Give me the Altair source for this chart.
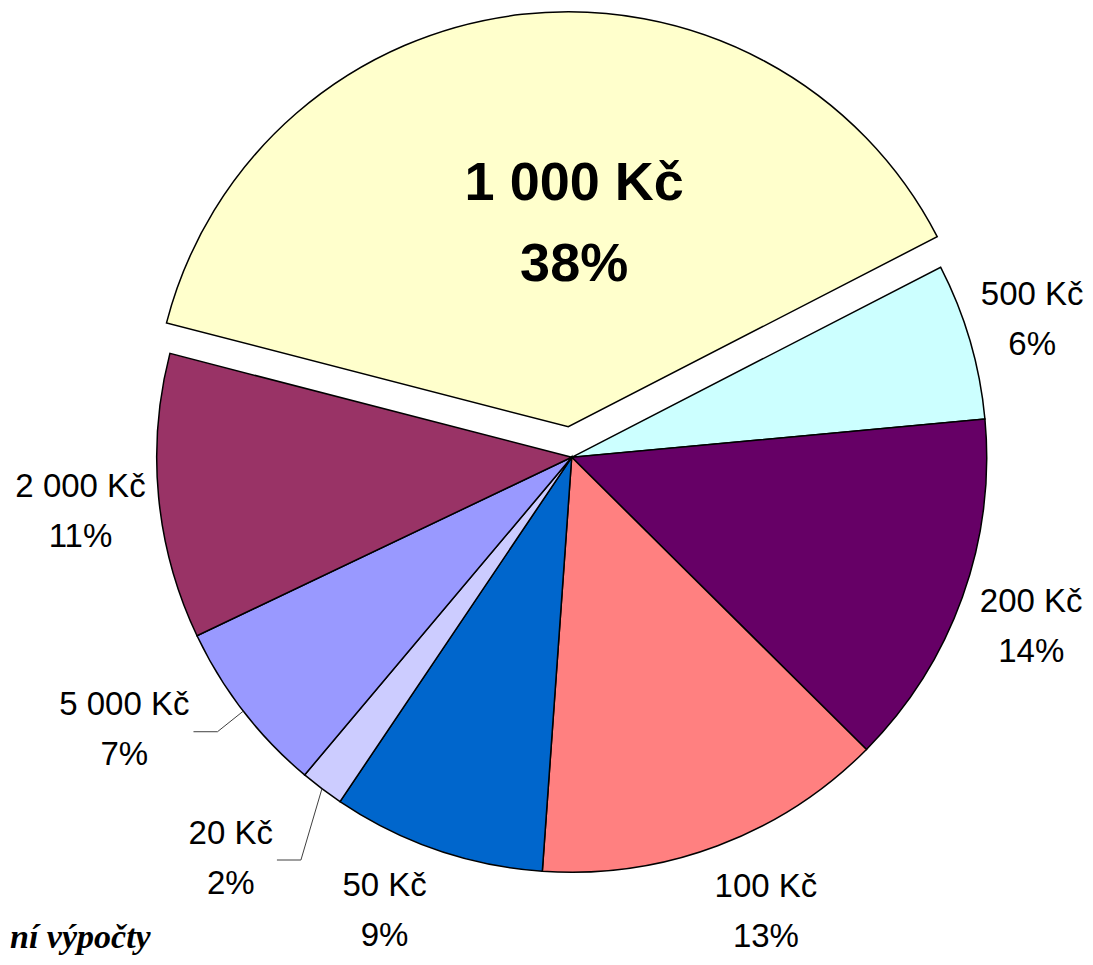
import math
import altair as alt
import pandas as pd

# ---- data ----
names = ["1 000 Kč", "500 Kč", "200 Kč", "100 Kč", "50 Kč", "20 Kč", "5 000 Kč", "2 000 Kč"]
shares = [38.4, 6.1, 13.9, 13.7, 8.3, 1.7, 6.8, 11.1]
pct_text = ["38%", "6%", "14%", "13%", "9%", "2%", "7%", "11%"]
colors = ["#FFFFCC", "#CCFFFF", "#660066", "#FF8080", "#0066CC", "#CCCCFF", "#9999FF", "#993366"]
source_text = "ní výpočty"

# ---- layout ----
W, H = 1077, 949
CX, CY = 563.7, 449.3
R = 415
START_DEG = 284.5
EXPLODE = 30.7
FONT = "Liberation Sans, Arial"
FS, LH = 33, 50
BFS, BLH = 54, 81
label_angle = [0.6, 73.2, 110.0, 156.8, 202.5, 220.5, 238.8, 263.9]
label_radius = [236, 481, 489, 493, 489, 525, 523, 494]
leader_names = ["20 Kč", "5 000 Kč"]

total = sum(shares)
t0, t1, acc = [], [], 0.0
for s in shares:
    t0.append(acc)
    acc += s
    t1.append(acc)

df = pd.DataFrame({
    "name": names,
    "share": shares,
    "t0": t0,
    "t1": t1,
    "label": [f"{n}\n{p}" for n, p in zip(names, pct_text)],
    "lt": [((a - START_DEG) % 360) / 360 * total for a in label_angle],
    "lr": label_radius,
})

a0 = math.radians(START_DEG - 360)
theta_scale = alt.Scale(domain=[0, total], range=[a0, a0 + 2 * math.pi])
color = alt.Color("name:N", scale=alt.Scale(domain=names, range=colors), legend=None)

mid_big = START_DEG + (shares[0] / total * 360) / 2
EX = EXPLODE * math.sin(math.radians(mid_big))
EY = -EXPLODE * math.cos(math.radians(mid_big))

base = alt.Chart(df)

pie = base.transform_filter(alt.datum.name != names[0]).mark_arc(
    radius=R, stroke="black", strokeWidth=1.5
).encode(
    theta=alt.Theta("t0:Q", scale=theta_scale, stack=False),
    theta2="t1:Q",
    color=color,
    x=alt.value(CX), y=alt.value(CY),
)

exploded = base.transform_filter(alt.datum.name == names[0]).mark_arc(
    radius=R, stroke="black", strokeWidth=1.5
).encode(
    theta=alt.Theta("t0:Q", scale=theta_scale, stack=False),
    theta2="t1:Q",
    color=color,
    x=alt.value(CX + EX), y=alt.value(CY + EY),
)

labels = base.transform_filter(alt.datum.name != names[0]).mark_text(
    font=FONT, fontSize=FS, lineBreak="\n", lineHeight=LH, dy=-LH / 2 + 2,
    align="center", baseline="middle", color="black"
).encode(
    theta=alt.Theta("lt:Q", scale=theta_scale, stack=False),
    radius=alt.Radius("lr:Q", scale=None),
    text="label:N",
    x=alt.value(CX), y=alt.value(CY),
)

big_label = base.transform_filter(alt.datum.name == names[0]).mark_text(
    font=FONT, fontSize=BFS, fontWeight="bold", lineBreak="\n", lineHeight=BLH,
    dy=-BLH / 2 + 3, align="center", baseline="middle", color="black"
).encode(
    theta=alt.Theta("lt:Q", scale=theta_scale, stack=False),
    radius=alt.Radius("lr:Q", scale=None),
    text="label:N",
    x=alt.value(CX), y=alt.value(CY),
)

# leader lines for the small slices (derived from slice geometry and label position)
adv = {" ": 0.278, "K": 0.667, "č": 0.5}
def text_w(s, size):
    return sum(adv.get(c, 0.556) for c in s) * size

rows = []
for i, n in enumerate(names):
    if n not in leader_names:
        continue
    la = math.radians(label_angle[i])
    lx = CX + label_radius[i] * math.sin(la)
    ly = CY - label_radius[i] * math.cos(la)
    ex = lx + text_w(n, FS) / 2 + 4
    ey = ly + 3.5
    mid = math.radians(START_DEG + (t0[i] + shares[i] / 2) / total * 360)
    sx = CX + R * math.sin(mid)
    sy = CY - R * math.cos(mid)
    rows += [
        {"g": n, "o": 0, "x": ex, "y": ey},
        {"g": n, "o": 1, "x": ex + 24, "y": ey},
        {"g": n, "o": 2, "x": sx, "y": sy},
    ]
leaders = alt.Chart(pd.DataFrame(rows)).mark_line(color="#404040", strokeWidth=1).encode(
    x=alt.X("x:Q", scale=None, axis=None),
    y=alt.Y("y:Q", scale=None, axis=None),
    order="o:O",
    detail="g:N",
)

source = alt.Chart(pd.DataFrame({"t": [source_text]})).mark_text(
    font="Liberation Serif, Times New Roman", fontSize=34, fontWeight="bold",
    fontStyle="italic", align="left", baseline="alphabetic", color="black"
).encode(x=alt.value(2), y=alt.value(H - 9), text="t:N")

chart = alt.layer(pie, exploded, leaders, labels, big_label, source).properties(
    width=W, height=H, autosize=alt.AutoSizeParams(type="none"), padding=0
).configure_view(stroke=None)

chart.save("out.html", embed_options={"renderer": "svg", "actions": False})
